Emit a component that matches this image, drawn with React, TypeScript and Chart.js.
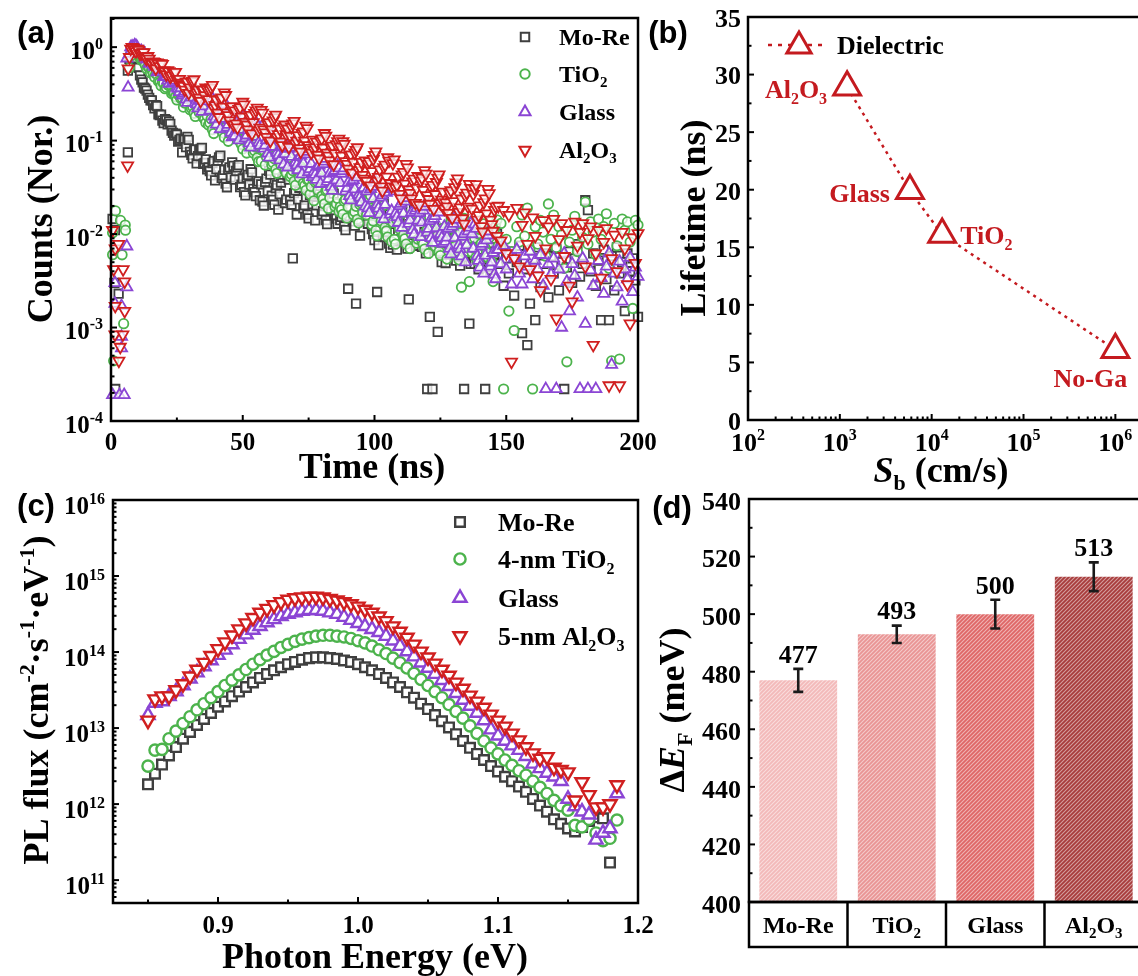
import React, { useEffect, useRef } from 'react';
import { Chart, registerables } from 'chart.js';
import { drawPoint } from 'chart.js/helpers';

Chart.register(...registerables);

// ======================= DATA =======================
// (a) TRPL decay, time bins (ns)
const decayTime = [
  7, 8, 9, 10, 11, 12, 13, 14, 15, 16, 17, 18, 19, 20, 21, 22, 23, 24, 25, 26,
  27, 28, 29, 30, 31, 32, 33, 34, 35, 36, 37, 38, 39, 40, 41, 42, 43, 44, 45, 46,
  47, 48, 49, 50, 51, 52, 53, 54, 55, 56, 57, 58, 59, 60, 61, 62, 63, 64, 65, 66,
  67, 68, 69, 70, 71, 72, 73, 74, 75, 76, 77, 78, 79, 80, 81, 82, 83, 84, 85, 86,
  87, 88, 89, 90, 91, 92, 93, 94, 95, 96, 97, 98, 99, 100, 101, 102, 103, 104, 105, 106,
  107, 108, 109, 110, 111, 112, 113, 114, 115, 116, 117, 118, 119, 120, 121, 122, 123, 124, 125, 126,
  127, 128, 129, 130, 131, 132, 133, 134, 135, 136, 137, 138, 139, 140, 141, 142, 143, 144, 145, 146,
  147, 148, 149, 150, 151, 152, 153, 154, 155, 156, 157, 158, 159, 160, 161, 162, 163, 164, 165, 166,
  167, 168, 169, 170, 171, 172, 173, 174, 175, 176, 177, 178, 179, 180, 181, 182, 183, 184, 185, 186,
  187, 188, 189, 190, 191, 192, 193, 194, 195, 196, 197, 198, 199, 200,
];
const decayMoRe = [
  0.75, 0.92, 0.8, 0.62, 0.5, 0.42, 0.36, 0.31, 0.27, 0.24,
  0.239, 0.191, 0.189, 0.154, 0.166, 0.16, 0.128, 0.113, 0.116, 0.102,
  0.0748, 0.1027, 0.1095, 0.0756, 0.0644, 0.0805, 0.0684, 0.0817, 0.0563, 0.0631,
  0.0516, 0.0425, 0.0603, 0.0496, 0.066, 0.04, 0.0487, 0.0317, 0.0517, 0.0585,
  0.0382, 0.0516, 0.0318, 0.0393, 0.026, 0.043, 0.0494, 0.0304, 0.0255, 0.0366,
  0.0341, 0.0202, 0.0392, 0.0475, 0.0257, 0.0206, 0.0335, 0.0268, 0.04, 0.0215,
  0.0422, 0.0228, 0.0055, 0.0294, 0.0235, 0.035, 0.0188, 0.0249, 0.0147, 0.0284,
  0.0255, 0.0203, 0.0303, 0.0162, 0.0216, 0.0128, 0.0247, 0.0299, 0.0161, 0.0129,
  0.0141, 0.0187, 0.011, 0.0026, 0.0255, 0.0137, 0.0018, 0.0175, 0.0138, 0.0205,
  0.0187, 0.0239, 0.0113, 0.0086, 0.0024, 0.0121, 0.02, 0.0093, 0.0134, 0.0071,
  0.0077, 0.0141, 0.0108, 0.0178, 0.0083, 0.0119, 0.002, 0.0142, 0.018, 0.0085,
  0.0156, 0.0073, 0.0105, 0.00022, 0.0013, 0.00022, 0.0076, 0.0009, 0.0106, 0.008,
  0.0049, 0.0112, 0.0144, 0.0068, 0.0052, 0.0096, 0.0073, 0.00022, 0.0057, 0.0011,
  0.0062, 0.0048, 0.0089, 0.0068, 0.0113, 0.00022, 0.0077, 0.0041, 0.0089, 0.0114,
  0.0048, 0.007, 0.0028, 0.0055, 0.0038, 0.0065, 0.0022, 0.005, 0.0075, 0.00087,
  0.0042, 0.00065, 0.0018, 0.0055, 0.0012, 0.0072, 0.0027, 0.0048, 0.0062, 0.0021,
  0.0058, 0.0038, 0.007, 0.0025, 0.005, 0.00022, 0.0044, 0.0065, 0.003, 0.0055,
  0.0078, 0.0035, 0.0048, 0.023, 0.018, 0.004, 0.0062, 0.0028, 0.0052, 0.0012,
  0.0068, 0.0033, 0.0012, 0.0058, 0.0025, 0.0072, 0.0038, 0.005, 0.0015, 0.0062,
  0.004, 0.0055, 0.0032, 0.0013,
];
const decayTiO2 = [
  0.6, 0.95, 0.9, 0.86, 0.76, 0.73, 0.64, 0.62, 0.53, 0.52,
  0.521, 0.43, 0.387, 0.412, 0.371, 0.387, 0.319, 0.324, 0.272, 0.301,
  0.286, 0.252, 0.283, 0.214, 0.23, 0.181, 0.224, 0.232, 0.176, 0.155,
  0.147, 0.17, 0.119, 0.175, 0.191, 0.127, 0.108, 0.142, 0.12, 0.149,
  0.133, 0.145, 0.096, 0.0813, 0.106, 0.0896, 0.111, 0.0735, 0.085, 0.0595,
  0.0602, 0.0788, 0.0667, 0.0829, 0.055, 0.0638, 0.0447, 0.0654, 0.0715, 0.0475,
  0.0625, 0.0412, 0.0475, 0.0332, 0.0484, 0.0526, 0.0349, 0.0294, 0.0383, 0.0323,
  0.0227, 0.037, 0.0419, 0.0255, 0.021, 0.0297, 0.0244, 0.0325, 0.0197, 0.024,
  0.0196, 0.0163, 0.0234, 0.0195, 0.0263, 0.0161, 0.0198, 0.0131, 0.0215, 0.0247,
  0.016, 0.0237, 0.0126, 0.0165, 0.0096, 0.0185, 0.0221, 0.0118, 0.0093, 0.015,
  0.0133, 0.0078, 0.0152, 0.0183, 0.0098, 0.0078, 0.0126, 0.0101, 0.0151, 0.008,
  0.0156, 0.0085, 0.0069, 0.0112, 0.009, 0.0136, 0.0074, 0.0099, 0.0059, 0.0115,
  0.0107, 0.0084, 0.0136, 0.0068, 0.0096, 0.0053, 0.0027, 0.0147, 0.0073, 0.0031,
  0.0064, 0.0091, 0.0051, 0.0112, 0.0142, 0.0071, 0.0056, 0.0101, 0.0031, 0.0129,
  0.0075, 0.013, 0.00022, 0.0088, 0.0015, 0.0065, 0.00093, 0.012, 0.0082, 0.016,
  0.0095, 0.019, 0.0068, 0.00022, 0.012, 0.0078, 0.014, 0.0105, 0.0058, 0.021,
  0.0088, 0.016, 0.0072, 0.012, 0.0098, 0.0043, 0.00043, 0.0082, 0.011, 0.0155,
  0.0065, 0.0125, 0.0092, 0.022, 0.0078, 0.0135, 0.0105, 0.006, 0.0145, 0.0088,
  0.012, 0.0165, 0.0043, 0.00044, 0.013, 0.0075, 0.00046, 0.0145, 0.011, 0.0135,
  0.0082, 0.0016, 0.014, 0.0125,
];
const decayGlass = [
  0.85, 1.02, 1.05, 0.99, 0.89, 0.86, 0.77, 0.75, 0.67, 0.65,
  0.621, 0.559, 0.583, 0.479, 0.485, 0.408, 0.451, 0.447, 0.368, 0.332,
  0.304, 0.335, 0.254, 0.333, 0.351, 0.255, 0.222, 0.268, 0.234, 0.271,
  0.264, 0.298, 0.181, 0.149, 0.21, 0.172, 0.229, 0.138, 0.168, 0.109,
  0.112, 0.16, 0.131, 0.175, 0.106, 0.13, 0.0845, 0.138, 0.156, 0.095,
  0.136, 0.0826, 0.101, 0.066, 0.108, 0.122, 0.0746, 0.0616, 0.0876, 0.0722,
  0.0518, 0.0847, 0.0962, 0.0587, 0.0484, 0.069, 0.0569, 0.076, 0.0462, 0.0565,
  0.0463, 0.0382, 0.0544, 0.0448, 0.0599, 0.0364, 0.0445, 0.0291, 0.0475, 0.054,
  0.0353, 0.0474, 0.0288, 0.0354, 0.0231, 0.0379, 0.0431, 0.0264, 0.0219, 0.0312,
  0.0288, 0.0168, 0.0322, 0.0386, 0.0206, 0.0162, 0.0261, 0.0206, 0.0304, 0.0162,
  0.0313, 0.0167, 0.0132, 0.0211, 0.0166, 0.0244, 0.0129, 0.0169, 0.0099, 0.0189,
  0.0168, 0.0133, 0.0197, 0.0104, 0.0138, 0.0081, 0.0156, 0.0186, 0.01, 0.0079,
  0.0083, 0.0114, 0.0061, 0.0129, 0.0157, 0.0076, 0.0058, 0.01, 0.0076, 0.0118,
  0.01, 0.0127, 0.0058, 0.0044, 0.0079, 0.0059, 0.0097, 0.0045, 0.0063, 0.0033,
  0.0068, 0.0048, 0.0075, 0.0042, 0.0062, 0.0029, 0.0055, 0.0068, 0.0038, 0.0029,
  0.0058, 0.0045, 0.0065, 0.0033, 0.0052, 0.0042, 0.006, 0.0028, 0.00022, 0.0048,
  0.0037, 0.0055, 0.00022, 0.0042, 0.001, 0.0062, 0.0031, 0.0015, 0.0048, 0.0036,
  0.0021, 0.00022, 0.0055, 0.0011, 0.00022, 0.0041, 0.0028, 0.00022, 0.0052, 0.0034,
  0.0023, 0.0045, 0.0062, 0.0004, 0.0038, 0.0027, 0.0051, 0.0019, 0.0042, 0.0033,
  0.0056, 0.0024, 0.0044, 0.0035,
];
const decayAl2O3 = [
  0.78, 1.0, 0.94, 0.96, 0.85, 0.88, 0.78, 0.8, 0.69, 0.7,
  0.59, 0.67, 0.67, 0.56, 0.51, 0.55, 0.5, 0.53, 0.445, 0.455,
  0.4, 0.35, 0.425, 0.37, 0.435, 0.315, 0.35, 0.265, 0.35, 0.37,
  0.277, 0.368, 0.223, 0.273, 0.178, 0.289, 0.327, 0.199, 0.164, 0.233,
  0.21, 0.138, 0.227, 0.259, 0.158, 0.131, 0.188, 0.157, 0.21, 0.128,
  0.212, 0.131, 0.109, 0.157, 0.131, 0.177, 0.109, 0.134, 0.089, 0.148,
  0.134, 0.112, 0.152, 0.093, 0.114, 0.076, 0.125, 0.144, 0.089, 0.074,
  0.079, 0.097, 0.064, 0.105, 0.12, 0.074, 0.061, 0.088, 0.073, 0.098,
  0.086, 0.098, 0.06, 0.05, 0.071, 0.059, 0.079, 0.048, 0.059, 0.039,
  0.037, 0.06, 0.047, 0.07, 0.037, 0.049, 0.029, 0.055, 0.066, 0.035,
  0.057, 0.031, 0.041, 0.024, 0.046, 0.056, 0.03, 0.024, 0.039, 0.031,
  0.0205, 0.04, 0.048, 0.026, 0.021, 0.0335, 0.0267, 0.04, 0.0213, 0.0283,
  0.0218, 0.0168, 0.0293, 0.0224, 0.0355, 0.0172, 0.0239, 0.0129, 0.0276, 0.0343,
  0.0186, 0.0306, 0.0142, 0.0202, 0.0106, 0.024, 0.0303, 0.0142, 0.0108, 0.0197,
  0.02, 0.0085, 0.018, 0.0062, 0.016, 0.00043, 0.0055, 0.019, 0.0045, 0.0125,
  0.017, 0.0078, 0.0042, 0.015, 0.0095, 0.0036, 0.0025, 0.014, 0.007, 0.012,
  0.0033, 0.0145, 0.00125, 0.0088, 0.013, 0.0058, 0.011, 0.0028, 0.0019, 0.0135,
  0.0075, 0.0105, 0.013, 0.0045, 0.009, 0.012, 0.00065, 0.0062, 0.011, 0.0034,
  0.0082, 0.0115, 0.00024, 0.0055, 0.0098, 0.004, 0.00024, 0.0105, 0.007, 0.0029,
  0.0011, 0.0092, 0.0049, 0.0102,
];
// (a) intermediate half-ns bins
const decayTimeHalf = [
  7.5, 8.5, 9.5, 10.5, 11.5, 12.5, 13.5, 14.5, 15.5, 16.5, 17.5, 18.5, 19.5, 20.5, 21.5, 22.5, 23.5, 24.5, 25.5, 26.5,
  27.5, 28.5, 29.5, 30.5, 31.5, 32.5, 33.5, 34.5, 35.5, 36.5, 37.5, 38.5, 39.5, 40.5, 41.5, 42.5, 43.5, 44.5, 45.5, 46.5,
  47.5, 48.5, 49.5, 50.5, 51.5, 52.5, 53.5, 54.5, 55.5, 56.5, 57.5, 58.5, 59.5, 60.5, 61.5, 62.5, 63.5, 64.5, 65.5, 66.5,
  67.5, 68.5, 69.5, 70.5, 71.5, 72.5, 73.5, 74.5, 75.5, 76.5, 77.5, 78.5, 79.5, 80.5, 81.5, 82.5, 83.5, 84.5, 85.5, 86.5,
  87.5, 88.5, 89.5, 90.5, 91.5, 92.5, 93.5, 94.5, 95.5, 96.5, 97.5, 98.5, 99.5, 100.5, 101.5, 102.5, 103.5, 104.5, 105.5, 106.5,
  107.5, 108.5, 109.5, 110.5, 111.5, 112.5, 113.5, 114.5, 115.5, 116.5, 117.5, 118.5, 119.5, 120.5, 121.5, 122.5, 123.5, 124.5, 125.5, 126.5,
  127.5, 128.5, 129.5, 130.5, 131.5, 132.5, 133.5, 134.5, 135.5, 136.5, 137.5, 138.5, 139.5, 140.5, 141.5, 142.5, 143.5, 144.5, 145.5, 146.5,
];
const decayMoReHalf = [
  0.889, 0.822, 0.726, 0.6, 0.449, 0.369, 0.343, 0.287, 0.27, 0.221,
  0.234, 0.187, 0.164, 0.17, 0.149, 0.151, 0.121, 0.119, 0.0974, 0.105,
  0.101, 0.0852, 0.102, 0.0702, 0.0787, 0.0571, 0.0784, 0.0836, 0.0577, 0.0492,
  0.0473, 0.0576, 0.0376, 0.0612, 0.0691, 0.0421, 0.0346, 0.0492, 0.0404, 0.0537,
  0.0474, 0.0546, 0.0337, 0.0281, 0.0405, 0.0338, 0.0457, 0.0281, 0.0348, 0.023,
  0.0222, 0.0362, 0.0289, 0.0432, 0.0232, 0.031, 0.0183, 0.0356, 0.0432, 0.0234,
  0.0383, 0.0206, 0.0274, 0.0162, 0.0313, 0.0378, 0.0204, 0.0162, 0.0263, 0.0209,
  0.014, 0.027, 0.0327, 0.0176, 0.0141, 0.0228, 0.0182, 0.0271, 0.0146, 0.0194,
  0.0153, 0.0121, 0.0196, 0.0155, 0.0231, 0.0123, 0.0163, 0.0096, 0.0184, 0.0221,
  0.0129, 0.0214, 0.01, 0.0144, 0.0076, 0.0173, 0.022, 0.0104, 0.0079, 0.0145,
  0.0129, 0.0068, 0.0154, 0.0196, 0.0092, 0.007, 0.0128, 0.0098, 0.0161, 0.0075,
  0.0172, 0.0081, 0.0062, 0.0113, 0.0086, 0.0142, 0.0067, 0.0095, 0.005, 0.0114,
  0.0101, 0.0077, 0.0128, 0.006, 0.0086, 0.0046, 0.0104, 0.0133, 0.0063, 0.0048,
  0.0055, 0.0079, 0.0042, 0.0095, 0.0121, 0.0057, 0.0044, 0.008, 0.0061, 0.0101,
];
const decayTiO2Half = [
  0.805, 0.962, 0.872, 0.856, 0.722, 0.697, 0.588, 0.601, 0.568, 0.479,
  0.511, 0.421, 0.427, 0.359, 0.398, 0.395, 0.326, 0.294, 0.312, 0.282,
  0.228, 0.282, 0.292, 0.222, 0.196, 0.227, 0.2, 0.224, 0.17, 0.183,
  0.155, 0.131, 0.172, 0.146, 0.182, 0.121, 0.14, 0.0983, 0.144, 0.157,
  0.111, 0.138, 0.091, 0.105, 0.0736, 0.107, 0.117, 0.0777, 0.0656, 0.0857,
  0.078, 0.0547, 0.0801, 0.0874, 0.0581, 0.0492, 0.0644, 0.0545, 0.0678, 0.0449,
  0.0658, 0.0435, 0.0367, 0.0479, 0.0403, 0.05, 0.033, 0.0381, 0.0266, 0.0388,
  0.0358, 0.0294, 0.0392, 0.0237, 0.029, 0.0188, 0.0307, 0.0347, 0.0211, 0.0174,
  0.0183, 0.0225, 0.0148, 0.0245, 0.0281, 0.0173, 0.0144, 0.0206, 0.0171, 0.0231,
  0.0216, 0.0258, 0.0138, 0.0109, 0.0174, 0.0138, 0.0202, 0.0108, 0.0142, 0.0083,
  0.0088, 0.0141, 0.0113, 0.0168, 0.0089, 0.0119, 0.007, 0.0136, 0.0164, 0.0088,
  0.0144, 0.0078, 0.0104, 0.0062, 0.0122, 0.0149, 0.0081, 0.0065, 0.0107, 0.0086,
  0.0054, 0.0117, 0.0149, 0.0074, 0.0058, 0.0103, 0.0081, 0.013, 0.0065, 0.0091,
  0.0071, 0.0056, 0.0101, 0.0079, 0.0129, 0.0064, 0.0091, 0.0051, 0.0112, 0.0142,
];
const decayGlassHalf = [
  1.0, 1.0, 1.03, 0.89, 0.91, 0.88, 0.74, 0.67, 0.69, 0.62,
  0.541, 0.599, 0.594, 0.489, 0.44, 0.468, 0.421, 0.438, 0.36, 0.365,
  0.317, 0.276, 0.334, 0.29, 0.337, 0.245, 0.27, 0.204, 0.268, 0.282,
  0.21, 0.279, 0.169, 0.205, 0.133, 0.217, 0.245, 0.148, 0.122, 0.173,
  0.155, 0.101, 0.165, 0.187, 0.114, 0.0938, 0.133, 0.11, 0.146, 0.0886,
  0.145, 0.0886, 0.0731, 0.104, 0.0858, 0.114, 0.0696, 0.0851, 0.0555, 0.0907,
  0.0818, 0.0674, 0.09, 0.0547, 0.0669, 0.0437, 0.0715, 0.0812, 0.0496, 0.0409,
  0.0432, 0.0528, 0.0345, 0.0563, 0.064, 0.039, 0.0322, 0.0459, 0.0378, 0.0506,
  0.0444, 0.0506, 0.0309, 0.0256, 0.0365, 0.0302, 0.0404, 0.0247, 0.0302, 0.0198,
  0.0189, 0.0304, 0.0239, 0.0354, 0.0188, 0.0247, 0.0144, 0.0278, 0.0332, 0.0177,
  0.0287, 0.0152, 0.02, 0.0117, 0.0223, 0.0266, 0.0141, 0.0111, 0.0178, 0.014,
  0.0093, 0.0179, 0.0214, 0.0114, 0.0091, 0.0146, 0.0116, 0.0171, 0.0091, 0.012,
  0.0092, 0.007, 0.0121, 0.0091, 0.0143, 0.0069, 0.0094, 0.005, 0.0107, 0.0131,
  0.007, 0.0114, 0.0052, 0.0074, 0.0038, 0.0086, 0.0107, 0.005, 0.0037, 0.0068,
];
const decayAl2O3Half = [
  0.96, 0.98, 0.9, 0.93, 0.86, 0.88, 0.75, 0.75, 0.66, 0.69,
  0.683, 0.623, 0.659, 0.549, 0.564, 0.481, 0.539, 0.542, 0.452, 0.414,
  0.384, 0.425, 0.323, 0.426, 0.451, 0.329, 0.287, 0.349, 0.305, 0.355,
  0.348, 0.393, 0.239, 0.198, 0.28, 0.23, 0.306, 0.186, 0.227, 0.148,
  0.152, 0.217, 0.18, 0.243, 0.148, 0.182, 0.119, 0.197, 0.224, 0.137,
  0.198, 0.122, 0.15, 0.0994, 0.164, 0.189, 0.117, 0.0973, 0.141, 0.117,
  0.0852, 0.14, 0.162, 0.0997, 0.0828, 0.12, 0.0993, 0.135, 0.083, 0.102,
  0.0846, 0.0702, 0.1007, 0.0835, 0.1122, 0.0686, 0.0845, 0.0556, 0.0913, 0.1043,
  0.0688, 0.0921, 0.0562, 0.069, 0.0452, 0.0742, 0.0845, 0.0517, 0.0428, 0.0612,
  0.0564, 0.033, 0.0635, 0.0762, 0.0408, 0.0323, 0.0519, 0.041, 0.0607, 0.0323,
  0.0626, 0.0336, 0.0268, 0.0433, 0.0345, 0.0514, 0.0275, 0.0365, 0.0215, 0.0416,
  0.0371, 0.0295, 0.0441, 0.0236, 0.0314, 0.0185, 0.0359, 0.0433, 0.0233, 0.0186,
  0.0197, 0.0272, 0.0148, 0.0316, 0.0392, 0.0192, 0.0147, 0.0256, 0.0196, 0.0311,
  0.0268, 0.034, 0.0159, 0.0121, 0.0219, 0.0166, 0.0273, 0.0127, 0.0181, 0.0095,
];
// (a) background counts recorded before the laser pulse
const preTimeMoRe = [0.6, 1.5, 1.3, 2.9, 1.6, 6.4, 6.4];
const preMoRe = [0.0145, 0.011, 0.003, 0.0023, 0.00022, 0.075, 0.56];
const preTimeTiO2 = [0.6, 1.7, 3.6, 5.5, 0.6, 4.2, 4.8, 1.0, 5.4];
const preTiO2 = [0.0103, 0.0177, 0.014, 0.011, 0.006, 0.006, 0.0011, 0.00044, 0.0125];
const preTimeGlass = [6.0, 1.5, 6.0, 1.5, 4.0, 4.0, 4.0, 0.6, 3.2, 5.0, 6.5, 6.0];
const preGlass = [0.0074, 0.003, 0.0027, 0.0018, 0.0017, 0.0008, 0.0006, 0.00019, 0.00019, 0.00019, 0.37, 0.76];
const preTimeAl2O3 = [0.6, 1.6, 2.9, 1.0, 4.6, 5.2, 1.6, 5.2, 1.5, 4.5, 3.5, 3.0, 6.3, 6.5];
const preAl2O3 = [0.011, 0.007, 0.0078, 0.0042, 0.0042, 0.0031, 0.0017, 0.0015, 0.00084, 0.00084, 0.00062, 0.00044, 0.054, 0.59];

const aXTicks = [0, 50, 100, 150, 200];
const aXMinor = [25, 75, 125, 175];
const aYTicks = [1e-4, 1e-3, 1e-2, 1e-1, 1];
const aYTickLabels = ['10^{-4}', '10^{-3}', '10^{-2}', '10^{-1}', '10^{0}'];

// (b) lifetime vs rear surface recombination velocity
const sbNames = ['Al_{2}O_{3}', 'Glass', 'TiO_{2}', 'No-Ga'];
const sbValues = [1200, 5800, 13000, 1000000];
const lifetimeNs = [28.9, 19.9, 16.1, 6.1];
const bXTicks = [1e2, 1e3, 1e4, 1e5, 1e6];
const bXTickLabels = ['10^{2}', '10^{3}', '10^{4}', '10^{5}', '10^{6}'];
const bYTicks = [0, 5, 10, 15, 20, 25, 30, 35];
const bYMinor = [2.5, 7.5, 12.5, 17.5, 22.5, 27.5, 32.5];

// (c) PL spectra
const photonEnergy = [
  0.85, 0.855, 0.86, 0.865, 0.87, 0.875, 0.88, 0.885, 0.89, 0.895,
  0.9, 0.905, 0.91, 0.915, 0.92, 0.925, 0.93, 0.935, 0.94, 0.945,
  0.95, 0.955, 0.96, 0.965, 0.97, 0.975, 0.98, 0.985, 0.99, 0.995,
  1.0, 1.005, 1.01, 1.015, 1.02, 1.025, 1.03, 1.035, 1.04, 1.045,
  1.05, 1.055, 1.06, 1.065, 1.07, 1.075, 1.08, 1.085, 1.09, 1.095,
  1.1, 1.105, 1.11, 1.115, 1.12, 1.125, 1.13, 1.135, 1.14, 1.145,
  1.15, 1.155, 1.16, 1.165, 1.17, 1.175, 1.18, 1.185,
];
const plMoRe = [
  1.82e12, 2.51e12, 3.31e12, 4.37e12, 5.62e12, 7.24e12, 8.91e12, 1.1e13, 1.32e13, 1.58e13,
  1.91e13, 2.24e13, 2.63e13, 3.02e13, 3.47e13, 3.98e13, 4.57e13, 5.13e13, 5.75e13, 6.31e13,
  6.92e13, 7.41e13, 7.94e13, 8.32e13, 8.51e13, 8.51e13, 8.32e13, 8.13e13, 7.76e13, 7.41e13,
  6.92e13, 6.31e13, 5.75e13, 5.13e13, 4.57e13, 3.98e13, 3.47e13, 2.95e13, 2.51e13, 2.09e13,
  1.78e13, 1.48e13, 1.23e13, 1.02e13, 8.32e12, 6.76e12, 5.5e12, 4.57e12, 3.8e12, 3.16e12,
  2.69e12, 2.29e12, 2.0e12, 1.7e12, 1.45e12, 1.17e12, 9.55e11, 7.94e11, 6.31e11, 5.5e11,
  4.79e11, 4.37e11, 5.0e11, 6.0e11, 6.7e11, 6.5e11, 1.7e11,
];
const plTiO2 = [
  3.16e12, 5.13e12, 5.25e12, 7.24e12, 9.12e12, 1.15e13, 1.41e13, 1.74e13, 2.09e13, 2.51e13,
  3.02e13, 3.63e13, 4.27e13, 5.01e13, 5.89e13, 6.92e13, 7.94e13, 9.12e13, 1.02e14, 1.15e14,
  1.26e14, 1.38e14, 1.48e14, 1.55e14, 1.62e14, 1.66e14, 1.66e14, 1.62e14, 1.58e14, 1.51e14,
  1.41e14, 1.32e14, 1.2e14, 1.07e14, 9.55e13, 8.32e13, 7.24e13, 6.17e13, 5.25e13, 4.37e13,
  3.63e13, 3.02e13, 2.51e13, 2.04e13, 1.66e13, 1.35e13, 1.07e13, 8.51e12, 6.76e12, 5.5e12,
  4.57e12, 3.8e12, 3.24e12, 2.75e12, 2.4e12, 2.0e12, 1.66e12, 1.38e12, 1.12e12, 9.55e11,
  8.32e11, 5.25e11, 5.01e11, 6.31e11, 4.17e11, 3.31e11, 3.55e11, 6.17e11,
];
const plGlass = [
  1.48e13, 2.14e13, 2.24e13, 2.63e13, 3.02e13, 3.63e13, 4.47e13, 5.37e13, 6.46e13, 7.76e13,
  9.12e13, 1.07e14, 1.26e14, 1.48e14, 1.7e14, 1.95e14, 2.19e14, 2.45e14, 2.69e14, 2.95e14,
  3.16e14, 3.31e14, 3.47e14, 3.55e14, 3.55e14, 3.47e14, 3.31e14, 3.16e14, 2.88e14, 2.63e14,
  2.4e14, 2.19e14, 2.0e14, 1.82e14, 1.62e14, 1.41e14, 1.2e14, 1.02e14, 8.71e13, 7.24e13,
  6.17e13, 5.13e13, 4.27e13, 3.55e13, 2.88e13, 2.34e13, 1.95e13, 1.58e13, 1.26e13, 9.55e12,
  7.94e12, 6.76e12, 5.89e12, 5.13e12, 4.27e12, 3.39e12, 2.95e12, 2.57e12, 2.29e12, 2.0e12,
  1.17e12, 9.33e11, 7.94e11, 7.24e11, 3.39e11, 4.17e11, 4.79e11, 1.38e12,
];
const plAl2O3 = [
  1.26e13, 2.4e13, 2.63e13, 2.63e13, 3.16e13, 3.8e13, 4.79e13, 5.89e13, 7.24e13, 8.91e13,
  1.1e14, 1.35e14, 1.66e14, 2.0e14, 2.4e14, 2.82e14, 3.31e14, 3.72e14, 4.17e14, 4.57e14,
  4.9e14, 5.13e14, 5.25e14, 5.37e14, 5.37e14, 5.25e14, 5.01e14, 4.79e14, 4.57e14, 4.27e14,
  3.98e14, 3.63e14, 3.31e14, 2.95e14, 2.57e14, 2.19e14, 1.86e14, 1.55e14, 1.26e14, 1.02e14,
  8.51e13, 7.08e13, 5.89e13, 4.9e13, 3.98e13, 3.31e13, 2.69e13, 2.24e13, 1.86e13, 1.51e13,
  1.26e13, 1.05e13, 8.51e12, 6.92e12, 5.62e12, 4.68e12, 3.98e12, 4.17e12, 3.02e12, 2.82e12,
  2.63e12, 1.12e12, 1.95e12, 1.32e12, 9.12e11, 9.12e11, 1.0e12, 1.78e12,
];
const cXTicks = [0.9, 1.0, 1.1, 1.2];
const cXTickLabels = ['0.9', '1.0', '1.1', '1.2'];
const cXMinor = [0.85, 0.95, 1.05, 1.15];
const cYTicks = [1e11, 1e12, 1e13, 1e14, 1e15, 1e16];
const cYTickLabels = ['10^{11}', '10^{12}', '10^{13}', '10^{14}', '10^{15}', '10^{16}'];

// (d) quasi-Fermi level splitting
const dCategories = ['Mo-Re', 'TiO_{2}', 'Glass', 'Al_{2}O_{3}'];
const dSplitting = [477, 493, 500, 513];
const dError = [4, 3, 5, 5];
const dYTicks = [400, 420, 440, 460, 480, 500, 520, 540];
const dYMinor = [410, 430, 450, 470, 490, 510, 530];

// ======================= STYLE =======================
const SERIF = '"Liberation Serif","Times New Roman",serif';
const SANS = '"Liberation Sans",Arial,sans-serif';
const C_MORE = '#3f3f3f';
const C_TIO2 = '#4cb34c';
const C_GLASS = '#8b45d4';
const C_AL = '#d01f1f';
const C_B = '#c41a1f';
const BAR_COLORS = ['#f3b9b9', '#e99494', '#df6666', '#a83b3b'];
const CW = 1150;
const CH = 976;

type RichOpt = { size: number; align?: 'left' | 'center' | 'right'; color?: string; rot?: boolean; family?: string };
type Seg = { t: string; k: number; it: boolean };

function parseRich(s: string): Seg[] {
  const out: Seg[] = [];
  let buf = '';
  let it = false;
  let i = 0;
  while (i < s.length) {
    const c = s[i];
    if (c === '*') {
      if (buf) out.push({ t: buf, k: 0, it });
      buf = '';
      it = !it;
      i++;
      continue;
    }
    if ((c === '^' || c === '_') && s[i + 1] === '{') {
      if (buf) out.push({ t: buf, k: 0, it });
      buf = '';
      const end = s.indexOf('}', i);
      out.push({ t: s.slice(i + 2, end), k: c === '^' ? 1 : 2, it });
      i = end + 1;
      continue;
    }
    buf += c;
    i++;
  }
  if (buf) out.push({ t: buf, k: 0, it });
  return out;
}

function drawRich(ctx: CanvasRenderingContext2D, s: string, x: number, y: number, o: RichOpt) {
  const size = o.size;
  const fam = o.family || SERIF;
  const segs = parseRich(s);
  const fontOf = (g: Seg) => `${g.it ? 'italic ' : ''}bold ${g.k ? Math.round(size * 0.62) : size}px ${fam}`;
  const widths = segs.map((g) => {
    ctx.font = fontOf(g);
    return ctx.measureText(g.t).width;
  });
  const total = widths.reduce((p, q) => p + q, 0);
  ctx.save();
  ctx.translate(x, y);
  if (o.rot) ctx.rotate(-Math.PI / 2);
  ctx.fillStyle = o.color || '#000';
  ctx.textAlign = 'left';
  ctx.textBaseline = 'alphabetic';
  let cx = o.align === 'left' ? 0 : o.align === 'right' ? -total : -total / 2;
  const base = size * 0.34;
  segs.forEach((g, i) => {
    ctx.font = fontOf(g);
    const dy = g.k === 1 ? -size * 0.4 : g.k === 2 ? size * 0.22 : 0;
    ctx.fillText(g.t, cx, base + dy);
    cx += widths[i];
  });
  ctx.restore();
}

function seg(ctx: CanvasRenderingContext2D, x1: number, y1: number, x2: number, y2: number, w = 2) {
  ctx.save();
  ctx.strokeStyle = '#000';
  ctx.lineWidth = w;
  ctx.beginPath();
  ctx.moveTo(x1, y1);
  ctx.lineTo(x2, y2);
  ctx.stroke();
  ctx.restore();
}

function frame(ctx: CanvasRenderingContext2D, a: any) {
  ctx.save();
  ctx.strokeStyle = '#000';
  ctx.lineWidth = 2.5;
  ctx.strokeRect(a.left, a.top, a.right - a.left, a.bottom - a.top);
  ctx.restore();
}

function tickX(ctx: CanvasRenderingContext2D, sx: any, v: number, a: any, len: number) {
  const x = sx.getPixelForValue(v);
  seg(ctx, x, a.bottom, x, a.bottom - len, 2);
}
function tickY(ctx: CanvasRenderingContext2D, sy: any, v: number, a: any, len: number) {
  const y = sy.getPixelForValue(v);
  seg(ctx, a.left, y, a.left + len, y, 2);
}
function logMinor(decades: number[], max: number) {
  const out: number[] = [];
  decades.forEach((d) => {
    for (let m = 2; m <= 9; m++) if (d * m <= max) out.push(d * m);
  });
  return out;
}

function marker(ctx: CanvasRenderingContext2D, style: string, rot: number, r: number, color: string, bw: number, x: number, y: number) {
  ctx.save();
  ctx.fillStyle = '#fff';
  ctx.strokeStyle = color;
  ctx.lineWidth = bw;
  drawPoint(ctx, { pointStyle: style, rotation: rot, radius: r, borderWidth: bw } as any, x, y);
  ctx.restore();
}

function panelLetter(ctx: CanvasRenderingContext2D, s: string, x: number, y: number) {
  drawRich(ctx, s, x, y, { size: 31, align: 'center', family: SANS });
}

function baseOptions(L: number, T: number, R: number, B: number, scales: any) {
  return {
    responsive: false,
    maintainAspectRatio: false,
    animation: false,
    devicePixelRatio: 1,
    events: [],
    layout: { autoPadding: false, padding: { left: L, top: T, right: CW - R, bottom: CH - B } },
    plugins: { legend: { display: false }, tooltip: { enabled: false }, title: { display: false } },
    scales,
  };
}

const pairs = (xs: number[], ys: number[]) => ys.map((y, i) => ({ x: xs[i], y }));

// ======================= PANEL A =======================
function makeA(canvas: HTMLCanvasElement) {
  const sty = [
    { label: 'Al_{2}O_{3}', v: decayAl2O3, h: decayAl2O3Half, pt: preTimeAl2O3, pv: preAl2O3, style: 'triangle', rot: 180, r: 6.4, c: C_AL },
    { label: 'Glass', v: decayGlass, h: decayGlassHalf, pt: preTimeGlass, pv: preGlass, style: 'triangle', rot: 0, r: 6.4, c: C_GLASS },
    { label: 'TiO_{2}', v: decayTiO2, h: decayTiO2Half, pt: preTimeTiO2, pv: preTiO2, style: 'circle', rot: 0, r: 4.7, c: C_TIO2 },
    { label: 'Mo-Re', v: decayMoRe, h: decayMoReHalf, pt: preTimeMoRe, pv: preMoRe, style: 'rect', rot: 0, r: 6.0, c: C_MORE },
  ];
  const datasets = sty.map((s) => ({
    label: s.label,
    data: [...pairs(s.pt, s.pv), ...pairs(decayTime, s.v), ...pairs(decayTimeHalf, s.h)].sort((p, q) => p.x - q.x),
    showLine: false,
    clip: false,
    pointStyle: s.style,
    pointRotation: s.rot,
    pointRadius: s.r,
    pointBorderWidth: 1.8,
    pointBorderColor: s.c,
    pointBackgroundColor: 'rgba(255,255,255,0.75)',
  }));
  const L = 111, T = 18, R = 638, B = 421;
  const opts: any = baseOptions(L, T, R, B, {
    x: { type: 'linear', min: 0, max: 200, display: false },
    y: { type: 'logarithmic', min: 1e-4, max: 2.05, display: false },
  });
  const legendItems = [sty[3], sty[2], sty[1], sty[0]];
  const legendY = [37, 74, 112, 150];
  return new Chart(canvas, {
    type: 'scatter',
    data: { datasets },
    options: opts,
    plugins: [
      {
        id: 'decorA',
        afterDraw(chart: any) {
          const ctx = chart.ctx, a = chart.chartArea, sx = chart.scales.x, sy = chart.scales.y;
          frame(ctx, a);
          aXTicks.forEach((v) => {
            tickX(ctx, sx, v, a, 6);
            drawRich(ctx, String(v), sx.getPixelForValue(v), a.bottom + 20, { size: 25, align: 'center' });
          });
          aXMinor.forEach((v) => tickX(ctx, sx, v, a, 3.5));
          aYTicks.forEach((v, i) => {
            tickY(ctx, sy, v, a, 6);
            drawRich(ctx, aYTickLabels[i], a.left - 8, sy.getPixelForValue(v) + 3, { size: 25, align: 'right' });
          });
          logMinor(aYTicks, 2.05).forEach((v) => tickY(ctx, sy, v, a, 3.5));
          drawRich(ctx, 'Counts (Nor.)', 40, 219, { size: 36, rot: true });
          drawRich(ctx, 'Time (ns)', 372, 466, { size: 36 });
          legendItems.forEach((s, i) => {
            marker(ctx, s.style, s.rot, s.r, s.c, 2, 525, legendY[i]);
            drawRich(ctx, s.label, 559, legendY[i], { size: 24, align: 'left' });
          });
          panelLetter(ctx, '(a)', 36, 32);
        },
      },
    ],
  } as any);
}

// ======================= PANEL B =======================
function makeB(canvas: HTMLCanvasElement) {
  const L = 748, T = 17, R = 1143, B = 420;
  const opts: any = baseOptions(L, T, R, B, {
    x: { type: 'logarithmic', min: 100, max: 2e6, display: false },
    y: { type: 'linear', min: 0, max: 35, display: false },
  });
  const labelPos = [
    { dx: -20, dy: 2, align: 'right' },
    { dx: -20, dy: 2, align: 'right' },
    { dx: 18, dy: 1, align: 'left' },
    { dx: -25, dy: 28, align: 'center' },
  ];
  return new Chart(canvas, {
    type: 'scatter',
    data: {
      datasets: [
        {
          label: 'Dielectric',
          data: pairs(sbValues, lifetimeNs),
          showLine: true,
          borderColor: C_B,
          borderWidth: 2.5,
          borderDash: [3, 4.5],
          pointStyle: 'triangle',
          pointRadius: 15.5,
          pointBorderWidth: 3,
          pointBorderColor: C_B,
          pointBackgroundColor: '#fff',
        },
      ],
    },
    options: opts,
    plugins: [
      {
        id: 'decorB',
        afterDraw(chart: any) {
          const ctx = chart.ctx, a = chart.chartArea, sx = chart.scales.x, sy = chart.scales.y;
          frame(ctx, a);
          bYTicks.forEach((v) => {
            tickY(ctx, sy, v, a, 6);
            drawRich(ctx, String(v), a.left - 7, sy.getPixelForValue(v) + 1, { size: 26, align: 'right' });
          });
          bYMinor.forEach((v) => tickY(ctx, sy, v, a, 3.5));
          bXTicks.forEach((v, i) => {
            tickX(ctx, sx, v, a, 6);
            drawRich(ctx, bXTickLabels[i], sx.getPixelForValue(v), a.bottom + 22, { size: 26, align: 'center' });
          });
          logMinor(bXTicks, 2e6).forEach((v) => tickX(ctx, sx, v, a, 3.5));
          const meta = chart.getDatasetMeta(0);
          meta.data.forEach((p: any, i: number) => {
            const lp = labelPos[i];
            drawRich(ctx, sbNames[i], p.x + lp.dx, p.y + lp.dy, { size: 26, align: lp.align as any, color: C_B });
          });
          ctx.save();
          ctx.strokeStyle = C_B;
          ctx.lineWidth = 2.5;
          ctx.setLineDash([4, 6]);
          ctx.beginPath();
          ctx.moveTo(768, 45);
          ctx.lineTo(822, 45);
          ctx.stroke();
          ctx.restore();
          marker(ctx, 'triangle', 0, 14, C_B, 3, 799, 46);
          drawRich(ctx, 'Dielectric', 837, 45, { size: 26, align: 'left' });
          drawRich(ctx, 'Lifetime (ns)', 693, 218, { size: 36, rot: true });
          drawRich(ctx, '*S*_{b} (cm/s)', 941, 470, { size: 36 });
          panelLetter(ctx, '(b)', 668, 32);
        },
      },
    ],
  } as any);
}

// ======================= PANEL C =======================
function makeC(canvas: HTMLCanvasElement) {
  const sty = [
    { label: '5-nm Al_{2}O_{3}', v: plAl2O3, style: 'triangle', rot: 180, r: 7.6, c: C_AL },
    { label: 'Glass', v: plGlass, style: 'triangle', rot: 0, r: 7.6, c: C_GLASS },
    { label: '4-nm TiO_{2}', v: plTiO2, style: 'circle', rot: 0, r: 5.6, c: C_TIO2 },
    { label: 'Mo-Re', v: plMoRe, style: 'rect', rot: 0, r: 6.8, c: C_MORE },
  ];
  const datasets = sty.map((s) => ({
    label: s.label,
    data: pairs(photonEnergy, s.v),
    showLine: false,
    pointStyle: s.style,
    pointRotation: s.rot,
    pointRadius: s.r,
    pointBorderWidth: 2.4,
    pointBorderColor: s.c,
    pointBackgroundColor: '#fff',
  }));
  const L = 113, T = 500, R = 638, B = 903;
  const opts: any = baseOptions(L, T, R, B, {
    x: { type: 'linear', min: 0.825, max: 1.2, display: false },
    y: { type: 'logarithmic', min: 5e10, max: 1e16, display: false },
  });
  const legendItems = [sty[3], sty[2], sty[1], sty[0]];
  const legendY = [522, 559, 598, 636];
  return new Chart(canvas, {
    type: 'scatter',
    data: { datasets },
    options: opts,
    plugins: [
      {
        id: 'decorC',
        afterDraw(chart: any) {
          const ctx = chart.ctx, a = chart.chartArea, sx = chart.scales.x, sy = chart.scales.y;
          frame(ctx, a);
          cXTicks.forEach((v, i) => {
            tickX(ctx, sx, v, a, 6);
            drawRich(ctx, cXTickLabels[i], sx.getPixelForValue(v), a.bottom + 21, { size: 25, align: 'center' });
          });
          cXMinor.forEach((v) => tickX(ctx, sx, v, a, 3.5));
          cYTicks.forEach((v, i) => {
            tickY(ctx, sy, v, a, 6);
            drawRich(ctx, cYTickLabels[i], a.left - 8, sy.getPixelForValue(v) + 5, { size: 25, align: 'right' });
          });
          logMinor([1e10, ...cYTicks], 1e16).filter((v) => v >= 5e10).forEach((v) => tickY(ctx, sy, v, a, 3.5));
          legendItems.forEach((s, i) => {
            marker(ctx, s.style, s.rot, s.r, s.c, 2.4, 460, legendY[i]);
            drawRich(ctx, s.label, 498, legendY[i], { size: 26, align: 'left' });
          });
          drawRich(ctx, 'PL flux (cm^{-2}·s^{-1}·eV^{-1})', 36, 700, { size: 36, rot: true });
          drawRich(ctx, 'Photon Energy (eV)', 375, 956, { size: 36 });
          panelLetter(ctx, '(c)', 36, 505);
        },
      },
    ],
  } as any);
}

// ======================= PANEL D =======================
function hatch(color: string) {
  const c = document.createElement('canvas');
  c.width = 4;
  c.height = 4;
  const g = c.getContext('2d')!;
  g.fillStyle = color;
  g.fillRect(0, 0, 4, 4);
  g.strokeStyle = 'rgba(255,255,255,0.5)';
  g.lineWidth = 1.1;
  g.beginPath();
  g.moveTo(0, 4);
  g.lineTo(4, 0);
  g.moveTo(-1, 1);
  g.lineTo(1, -1);
  g.moveTo(3, 5);
  g.lineTo(5, 3);
  g.stroke();
  return g.createPattern(c, 'repeat')!;
}

function makeD(canvas: HTMLCanvasElement) {
  const L = 749, T = 499, R = 1143, B = 902;
  const opts: any = baseOptions(L, T, R, B, {
    x: { type: 'category', display: false, offset: true },
    y: { type: 'linear', min: 400, max: 540, display: false },
  });
  return new Chart(canvas, {
    type: 'bar',
    data: {
      labels: dCategories,
      datasets: [
        {
          label: 'ΔEF',
          data: dSplitting,
          backgroundColor: BAR_COLORS.map(hatch),
          borderWidth: 0,
          categoryPercentage: 1,
          barPercentage: 0.79,
        },
      ],
    },
    options: opts,
    plugins: [
      {
        id: 'decorD',
        afterDraw(chart: any) {
          const ctx = chart.ctx, a = chart.chartArea, sy = chart.scales.y;
          const meta = chart.getDatasetMeta(0);
          meta.data.forEach((bar: any, i: number) => {
            const x = bar.x;
            const yt = sy.getPixelForValue(dSplitting[i] + dError[i]);
            const yb = sy.getPixelForValue(dSplitting[i] - dError[i]);
            ctx.save();
            ctx.strokeStyle = '#1a1a1a';
            ctx.lineWidth = 2.6;
            ctx.beginPath();
            ctx.moveTo(x, yt);
            ctx.lineTo(x, yb);
            ctx.moveTo(x - 5, yt);
            ctx.lineTo(x + 5, yt);
            ctx.moveTo(x - 5, yb);
            ctx.lineTo(x + 5, yb);
            ctx.stroke();
            ctx.restore();
            drawRich(ctx, String(dSplitting[i]), x, yt - 15, { size: 26, align: 'center' });
          });
          frame(ctx, a);
          dYTicks.forEach((v) => {
            tickY(ctx, sy, v, a, 6);
            drawRich(ctx, String(v), a.left - 8, sy.getPixelForValue(v) + 2, { size: 26, align: 'right' });
          });
          dYMinor.forEach((v) => tickY(ctx, sy, v, a, 3.5));
          const tb = a.bottom + 45;
          ctx.save();
          ctx.strokeStyle = '#000';
          ctx.lineWidth = 2.5;
          ctx.strokeRect(a.left, a.bottom, a.right - a.left, tb - a.bottom);
          ctx.restore();
          meta.data.forEach((bar: any, i: number) => {
            if (i < meta.data.length - 1) {
              const xm = (bar.x + meta.data[i + 1].x) / 2;
              seg(ctx, xm, a.bottom, xm, tb, 2.5);
            }
            drawRich(ctx, dCategories[i], bar.x, (a.bottom + tb) / 2, { size: 24, align: 'center' });
          });
          drawRich(ctx, 'Δ*E*_{F} (meV)', 672, 710, { size: 36, rot: true });
          panelLetter(ctx, '(d)', 672, 507);
        },
      },
    ],
  } as any);
}

// ======================= APP =======================
export default function App() {
  const ra = useRef<HTMLCanvasElement>(null);
  const rb = useRef<HTMLCanvasElement>(null);
  const rc = useRef<HTMLCanvasElement>(null);
  const rd = useRef<HTMLCanvasElement>(null);
  useEffect(() => {
    const charts = [makeA(ra.current!), makeB(rb.current!), makeC(rc.current!), makeD(rd.current!)];
    return () => charts.forEach((c) => c.destroy());
  }, []);
  const cs: React.CSSProperties = { position: 'absolute', left: 0, top: 0, width: CW, height: CH };
  return (
    <div style={{ position: 'fixed', left: 0, top: 0, width: 1138, height: 976, overflow: 'hidden', background: '#fff' }}>
      <div style={{ position: 'absolute', left: 0, top: 0, width: CW, height: CH }}>
        <canvas ref={ra} width={CW} height={CH} style={cs} />
        <canvas ref={rb} width={CW} height={CH} style={cs} />
        <canvas ref={rc} width={CW} height={CH} style={cs} />
        <canvas ref={rd} width={CW} height={CH} style={cs} />
      </div>
    </div>
  );
}
